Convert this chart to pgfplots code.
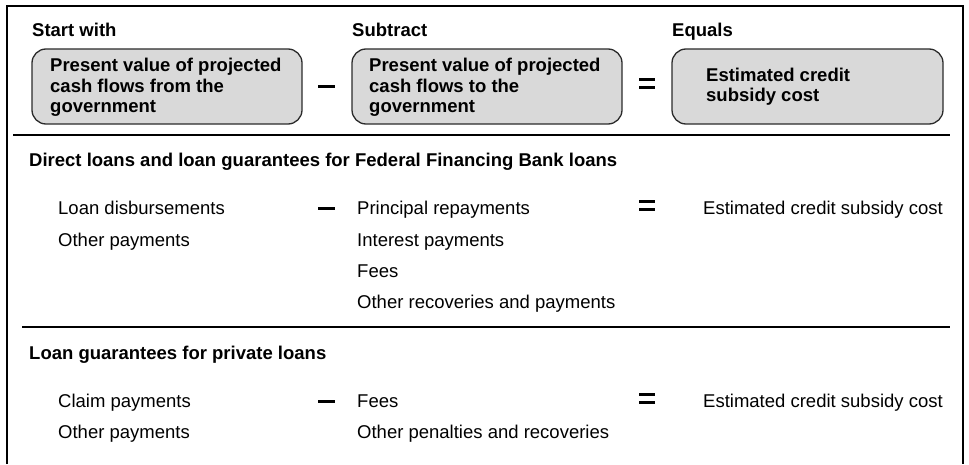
\documentclass[border=0pt]{standalone}
\usepackage{fontspec}
\setmainfont{Liberation Sans}
\usepackage{pgfplots}
\pgfplotsset{compat=1.18}

\definecolor{boxfill}{HTML}{D9D9D9}
\definecolor{boxedge}{HTML}{2B2B2B}

\begin{document}
\begin{tikzpicture}[
    txt/.style={anchor=base west, inner sep=0pt, font=\fontsize{18.5bp}{20.5bp}\selectfont},
    bld/.style={txt, font=\fontsize{18.5bp}{20.5bp}\selectfont\bfseries},
    op/.style={line width=3bp, black},
]
\begin{axis}[
    scale only axis, width=969bp, height=464bp,
    xmin=0, xmax=969, ymin=0, ymax=464, y dir=reverse,
    axis lines=none, clip=false,
]
% keep the whole canvas in the bounding box
\path (axis cs:0,0) rectangle (axis cs:969,464);

% outer frame (open at the bottom) and section rules
\addplot[black, line width=1.2bp, mark=none] coordinates {(7,464) (7,6) (963,6) (963,464)};
\addplot[black, line width=1.2bp, mark=none] coordinates {(13,135) (950,135)};
\addplot[black, line width=1.2bp, mark=none] coordinates {(22,327) (950,327)};

% rounded boxes
\draw[boxedge, line width=1.3bp, fill=boxfill, rounded corners=14bp]
    (axis cs:32,49) rectangle (axis cs:302,124);
\draw[boxedge, line width=1.3bp, fill=boxfill, rounded corners=14bp]
    (axis cs:352,49) rectangle (axis cs:622,124);
\draw[boxedge, line width=1.3bp, fill=boxfill, rounded corners=14bp]
    (axis cs:672,49) rectangle (axis cs:943,124);

% column headings
\node[bld] at (axis cs:32,37) {Start with};
\node[bld] at (axis cs:352,37) {Subtract};
\node[bld] at (axis cs:672,37) {Equals};

% box texts
\node[bld] at (axis cs:50,72) {Present value of projected};
\node[bld] at (axis cs:50,92.5) {cash flows from the};
\node[bld] at (axis cs:50,113) {government};
\node[bld] at (axis cs:369,72) {Present value of projected};
\node[bld] at (axis cs:369,92.5) {cash flows to the};
\node[bld] at (axis cs:369,113) {government};
\node[bld] at (axis cs:706,82) {Estimated credit};
\node[bld] at (axis cs:706,102) {subsidy cost};

% operators, top row
\addplot[op, mark=none] coordinates {(318,87) (335,87)};
\addplot[op, mark=none] coordinates {(639,79.5) (655,79.5)};
\addplot[op, mark=none] coordinates {(639,88) (655,88)};

% section 1
\node[bld] at (axis cs:29,166) {Direct loans and loan guarantees for Federal Financing Bank loans};
\node[txt] at (axis cs:58,214) {Loan disbursements};
\node[txt] at (axis cs:58,246) {Other payments};
\node[txt] at (axis cs:357,214) {Principal repayments};
\node[txt] at (axis cs:357,246) {Interest payments};
\node[txt] at (axis cs:357,277) {Fees};
\node[txt] at (axis cs:357,308) {Other recoveries and payments};
\node[txt] at (axis cs:703,214) {Estimated credit subsidy cost};
\addplot[op, mark=none] coordinates {(318,208) (335,208)};
\addplot[op, mark=none] coordinates {(639,201) (655,201)};
\addplot[op, mark=none] coordinates {(639,209) (655,209)};

% section 2
\node[bld] at (axis cs:29,359) {Loan guarantees for private loans};
\node[txt] at (axis cs:58,407) {Claim payments};
\node[txt] at (axis cs:58,438) {Other payments};
\node[txt] at (axis cs:357,407) {Fees};
\node[txt] at (axis cs:357,438) {Other penalties and recoveries};
\node[txt] at (axis cs:703,407) {Estimated credit subsidy cost};
\addplot[op, mark=none] coordinates {(318,401) (335,401)};
\addplot[op, mark=none] coordinates {(639,394) (655,394)};
\addplot[op, mark=none] coordinates {(639,402) (655,402)};
\end{axis}
\end{tikzpicture}
\end{document}
